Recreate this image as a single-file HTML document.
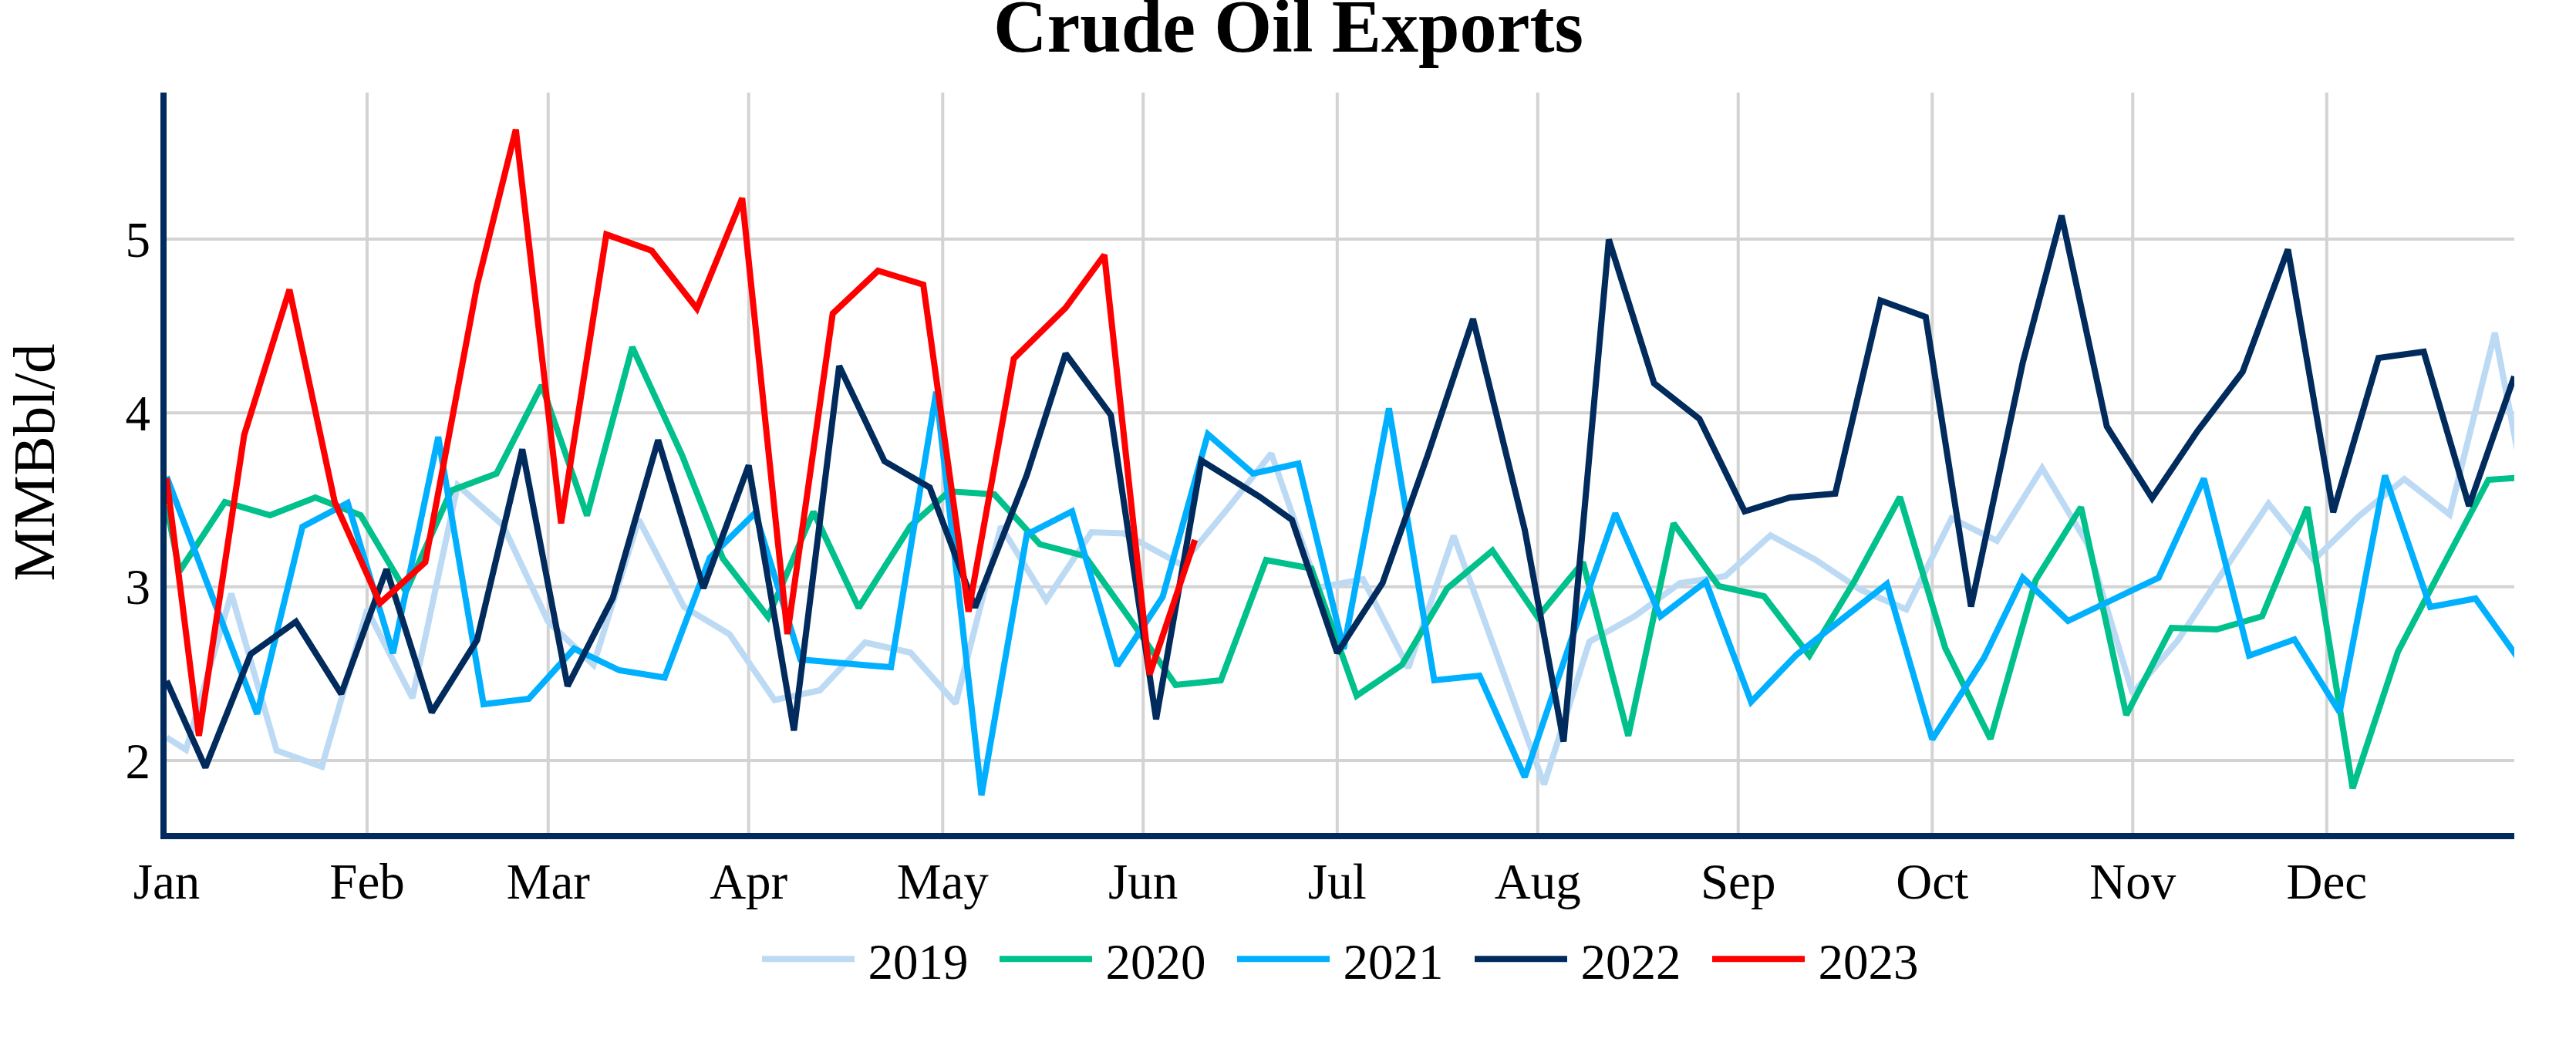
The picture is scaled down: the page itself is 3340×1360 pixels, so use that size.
<!DOCTYPE html><html><head><meta charset="utf-8"><style>html,body{margin:0;padding:0;background:#fff;overflow:hidden}svg{display:block}text{font-family:"Liberation Serif",serif;fill:#000}</style></head><body><svg width="3340" height="1360" viewBox="0 0 3340 1360"><rect width="3340" height="1360" fill="#fff"/><text x="1670.5" y="66.7" font-size="96.3" font-weight="bold" text-anchor="middle">Crude Oil Exports</text><path d="M216 986.00H3260 M216 760.67H3260 M216 535.33H3260 M216 310.00H3260 M475.96 120V1080 M710.75 120V1080 M970.71 120V1080 M1222.28 120V1080 M1482.24 120V1080 M1733.81 120V1080 M1993.76 120V1080 M2253.72 120V1080 M2505.29 120V1080 M2765.25 120V1080 M3016.82 120V1080" stroke="#d3d3d3" stroke-width="4" fill="none"/><text x="195" y="1008.5" font-size="65" text-anchor="end">2</text><text x="195" y="783.2" font-size="65" text-anchor="end">3</text><text x="195" y="557.8" font-size="65" text-anchor="end">4</text><text x="195" y="332.5" font-size="65" text-anchor="end">5</text><text x="216.0" y="1165" font-size="65" text-anchor="middle">Jan</text><text x="476.0" y="1165" font-size="65" text-anchor="middle">Feb</text><text x="710.8" y="1165" font-size="65" text-anchor="middle">Mar</text><text x="970.7" y="1165" font-size="65" text-anchor="middle">Apr</text><text x="1222.3" y="1165" font-size="65" text-anchor="middle">May</text><text x="1482.2" y="1165" font-size="65" text-anchor="middle">Jun</text><text x="1733.8" y="1165" font-size="65" text-anchor="middle">Jul</text><text x="1993.8" y="1165" font-size="65" text-anchor="middle">Aug</text><text x="2253.7" y="1165" font-size="65" text-anchor="middle">Sep</text><text x="2505.3" y="1165" font-size="65" text-anchor="middle">Oct</text><text x="2765.2" y="1165" font-size="65" text-anchor="middle">Nov</text><text x="3016.8" y="1165" font-size="65" text-anchor="middle">Dec</text><text transform="translate(69.5 599.5) rotate(-90)" font-size="77" text-anchor="middle">MMBbl/d</text><defs><clipPath id="c"><rect x="216" y="120" width="3044" height="960"/></clipPath></defs><g clip-path="url(#c)" fill="none" stroke-width="8" stroke-linejoin="miter" stroke-miterlimit="2"><polyline points="216.0,956.1 241.2,972.0 299.9,769.5 358.6,973.0 417.3,994.0 476.0,790.5 534.7,905.0 593.4,629.0 652.1,681.0 710.8,806.0 769.5,862.0 828.2,673.5 886.9,787.0 945.6,822.0 1004.3,907.5 1063.0,895.0 1121.7,833.0 1180.4,846.0 1239.1,912.0 1297.8,682.5 1356.5,778.0 1415.2,690.0 1457.1,691.5 1531.7,732.0 1591.3,660.0 1648.3,588.0 1708.7,762.0 1767.3,751.0 1826.0,866.0 1884.7,694.5 1943.4,856.0 2002.1,1017.0 2060.8,832.0 2119.5,799.0 2178.2,756.0 2236.9,747.0 2295.6,694.0 2354.3,726.0 2413.0,765.0 2471.7,790.0 2530.4,672.0 2589.1,701.0 2647.8,607.0 2706.5,705.0 2765.2,899.0 2823.9,830.0 2882.6,741.0 2941.3,653.0 3000.0,726.0 3058.7,669.0 3117.4,621.0 3176.1,667.0 3234.8,431.5 3293.5,739.0" stroke="#bddaf5"/><polyline points="216.0,656.6 232.8,740.5 291.5,651.0 350.2,668.0 408.9,645.0 467.6,668.0 526.3,767.0 585.0,636.0 643.7,614.0 702.4,499.5 761.1,668.5 819.8,450.0 884.3,590.0 937.2,724.0 995.9,800.0 1054.6,663.5 1113.3,788.0 1180.4,682.0 1230.7,637.0 1289.4,641.0 1348.1,705.5 1406.8,721.0 1465.5,803.0 1524.2,888.0 1582.9,882.0 1641.6,726.0 1700.3,737.0 1759.0,902.0 1817.7,862.0 1876.4,763.0 1935.1,714.0 1993.8,800.0 2052.5,729.0 2111.2,954.0 2169.9,678.5 2228.6,760.0 2287.3,773.0 2346.0,850.0 2404.7,753.0 2463.4,644.5 2522.1,840.0 2580.8,958.0 2639.5,752.0 2698.2,657.5 2756.9,927.0 2815.6,814.0 2874.3,816.0 2933.0,799.0 2991.7,657.5 3050.4,1022.0 3109.1,845.0 3167.8,733.0 3226.5,622.0 3285.2,618.0" stroke="#00c08b"/><polyline points="216.0,618.0 274.7,772.0 333.4,925.5 392.1,683.0 450.8,652.0 509.5,847.0 568.2,566.5 626.9,913.0 685.6,906.0 744.3,841.0 803.0,869.0 861.7,878.5 920.4,723.0 979.1,665.0 1037.8,855.0 1129.2,863.0 1155.2,865.0 1213.9,508.0 1272.6,1031.0 1331.3,693.0 1390.0,663.0 1448.7,863.0 1507.4,774.0 1566.1,563.0 1624.8,614.0 1683.5,601.0 1742.2,841.5 1800.9,529.5 1859.6,882.0 1918.3,876.0 1977.0,1007.5 2035.7,834.0 2094.4,665.5 2153.1,799.0 2211.8,754.0 2270.5,910.0 2329.2,849.0 2387.9,803.0 2446.6,757.0 2505.3,958.5 2572.4,853.0 2622.7,749.0 2681.4,805.0 2740.1,777.0 2798.8,749.0 2857.5,620.5 2916.2,850.0 2974.9,829.0 3033.6,923.5 3092.3,616.5 3151.0,787.0 3209.7,776.0 3268.4,858.0" stroke="#00b0ff"/><polyline points="216.0,882.7 266.3,995.0 325.0,848.0 383.7,806.0 442.4,899.5 501.1,738.0 559.8,923.5 618.5,830.0 677.2,582.5 735.9,889.5 794.6,775.0 853.3,570.5 912.0,762.5 970.7,603.5 1029.4,947.0 1088.1,474.5 1146.8,598.0 1205.5,632.0 1264.2,787.5 1331.3,616.0 1381.6,458.5 1440.3,538.0 1499.0,932.5 1557.7,597.0 1633.2,644.0 1675.1,674.0 1733.8,846.5 1792.5,756.0 1851.2,590.0 1909.9,413.5 1977.0,687.0 2027.3,961.5 2086.0,310.5 2144.7,497.0 2203.4,543.0 2262.1,663.0 2320.8,645.0 2379.5,640.0 2438.2,389.5 2496.9,411.0 2555.6,786.5 2622.7,470.0 2673.0,279.5 2731.7,553.0 2790.4,646.0 2849.1,559.0 2907.8,482.0 2966.5,323.5 3025.2,664.0 3083.9,464.0 3142.6,456.0 3201.3,656.0 3260.0,488.0" stroke="#002b5c"/><polyline points="216.0,620.0 257.9,954.0 316.6,564.0 375.3,375.5 434.0,651.0 492.7,782.0 551.4,729.0 618.5,370.0 668.8,168.0 727.5,678.5 786.2,304.0 844.9,325.0 903.6,400.0 962.3,257.0 1021.0,822.0 1079.7,406.5 1138.4,351.0 1197.1,369.0 1255.8,793.0 1314.5,465.0 1381.6,399.0 1431.9,330.5 1490.6,874.5 1549.3,700.0" stroke="#ff0000"/></g><path d="M212 120V1084H3260" stroke="#002b5c" stroke-width="8" fill="none" stroke-linejoin="miter" stroke-linecap="butt"/><path d="M988 1243.3h120" stroke="#bddaf5" stroke-width="8"/><text x="1125.5" y="1269" font-size="65">2019</text><path d="M1296 1243.3h120" stroke="#00c08b" stroke-width="8"/><text x="1433.5" y="1269" font-size="65">2020</text><path d="M1604 1243.3h120" stroke="#00b0ff" stroke-width="8"/><text x="1741.5" y="1269" font-size="65">2021</text><path d="M1912 1243.3h120" stroke="#002b5c" stroke-width="8"/><text x="2049.5" y="1269" font-size="65">2022</text><path d="M2220 1243.3h120" stroke="#ff0000" stroke-width="8"/><text x="2357.5" y="1269" font-size="65">2023</text></svg></body></html>
